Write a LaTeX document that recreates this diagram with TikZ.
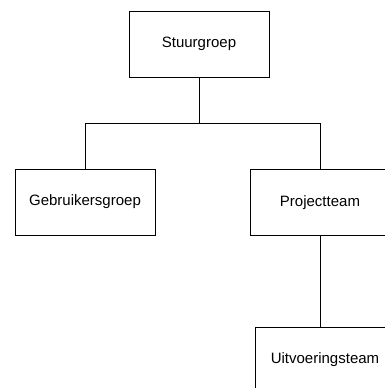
\documentclass[tikz,border=0pt]{standalone}
\usepackage{fontspec}
\setmainfont{Liberation Sans}
\usepackage{tikz}

\begin{document}
\begin{tikzpicture}[x=1pt,y=-1pt,line width=0.8pt,
  org node/.style={rectangle,fill=white,draw,minimum width=140pt,minimum height=66pt,
    inner sep=0pt,font=\fontsize{15}{18}\selectfont}]

  \useasboundingbox (0,0) rectangle (385,388);
  \clip (0,0) rectangle (385,388);

  \node[org node] (stuur) at (199,44) {Stuurgroep};
  \node[org node] (gebr) at (85,202) {Gebruikersgroep};
  \node[org node] (proj) at (320,202.5) {Projectteam};
  \node[org node] (uitv) at (325,360) {Uitvoeringsteam};

  \coordinate (split) at (199,123);

  \draw (stuur) -- (split) -| (gebr);
  \draw (split) -| (proj);
  \draw (proj) -- (proj |- uitv.north);

\end{tikzpicture}
\end{document}
